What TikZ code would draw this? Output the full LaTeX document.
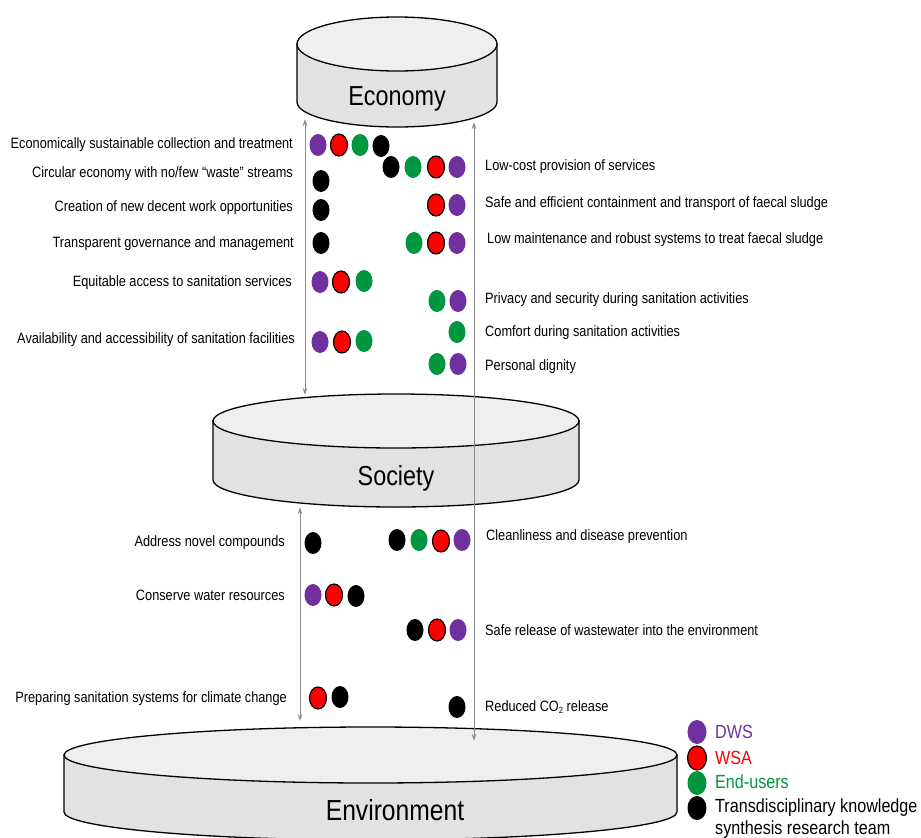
\documentclass[tikz,border=0pt]{standalone}
\usepackage{fontspec}
\setmainfont{Liberation Sans}[FakeStretch=0.85]
\usetikzlibrary{arrows.meta}
\definecolor{dwsP}{HTML}{7030A0}
\definecolor{wsaR}{HTML}{FF0000}
\definecolor{euG}{HTML}{00963F}
\definecolor{topfill}{HTML}{EFEFEF}
\definecolor{sidefill}{HTML}{E2E2E2}
\definecolor{arrgray}{HTML}{8C8C8C}
\newcommand\pdot[3]{\path[#1] (#2,#3) ellipse [x radius=8.5pt, y radius=11pt];}
\newcommand\ldot[3]{\path[#1] (#2,#3) ellipse [x radius=9.5pt, y radius=12pt];}
\newcommand\cyl[6]{% cx, topy, boty, rx, ry, bottom ry
  \filldraw[disk, fill=sidefill] (#1-#4,#2) -- (#1-#4,#3)
    arc[start angle=180, end angle=360, x radius=#4pt, y radius=#6pt] -- (#1+#4,#2) -- cycle;
  \filldraw[disk, fill=topfill] (#1,#2) ellipse [x radius=#4pt, y radius=#5pt];}
\begin{document}
\begin{tikzpicture}[x=1pt,y=-1pt,
  disk/.style={draw=black, line width=1.3pt},
  head/.style={font=\fontsize{27.5}{30}\selectfont, inner sep=0pt},
  lbl/.style={font=\fontsize{15}{17}\selectfont, inner sep=0pt},
  lgd/.style={font=\fontsize{19}{22}\selectfont, inner sep=0pt, anchor=west},
  conn/.style={draw=arrgray, line width=0.9pt, {Stealth[length=7pt,width=4.5pt]}-{Stealth[length=7pt,width=4.5pt]}},
  dotP/.style={fill=dwsP},
  dotR/.style={fill=wsaR, draw=black, line width=1.2pt},
  dotG/.style={fill=euG},
  dotK/.style={fill=black}]
\useasboundingbox (0,0) rectangle (921,838);
\fill[white] (0,0) rectangle (921,838);

% cylinders
\cyl{397}{44}{102}{100}{27}{25}
\cyl{396}{421}{480}{183}{27}{27}
\cyl{370.5}{755}{812}{306.5}{28}{28}

\node[head] (eco) at (397,99) {Economy};
\node[head] (soc) at (396,478) {Society};
\node[head, font=\fontsize{29}{32}\selectfont] (env) at (395,810) {Environment};

% connectors
\coordinate (ecoL) at (305,119);
\coordinate (socTL) at (305,395);
\coordinate (ecoR) at (474,122);
\coordinate (envR) at (474,741);
\coordinate (socBL) at (300,507);
\coordinate (envL) at (300,721);
\draw[conn] (ecoL) -- (socTL);
\draw[conn] (ecoR) -- (envR);
\draw[conn] (socBL) -- (envL);

% left labels (economy-society)
\node[lbl, anchor=east] (l1) at (293,145) {Economically sustainable collection and treatment};
\node[lbl, anchor=east] (l2) at (293,174) {Circular economy with no/few “waste” streams};
\node[lbl, anchor=east] (l3) at (293,208) {Creation of new decent work opportunities};
\node[lbl, anchor=east] (l4) at (294,244) {Transparent governance and management};
\node[lbl, anchor=east] (l5) at (292,283) {Equitable access to sanitation services};
\node[lbl, anchor=east] (l6) at (295,340) {Availability and accessibility of sanitation facilities};

% right labels (economy-society)
\node[lbl, anchor=west] (r1) at (485,167) {Low-cost provision of services};
\node[lbl, anchor=west] (r2) at (485,204) {Safe and efficient containment and transport of faecal sludge};
\node[lbl, anchor=west] (r3) at (487,240) {Low maintenance and robust systems to treat faecal sludge};
\node[lbl, anchor=west] (r4) at (485,300) {Privacy and security during sanitation activities};
\node[lbl, anchor=west] (r5) at (485,333) {Comfort during sanitation activities};
\node[lbl, anchor=west] (r6) at (485,367) {Personal dignity};

% society-environment labels
\node[lbl, anchor=east] (l7) at (285,543) {Address novel compounds};
\node[lbl, anchor=east] (l8) at (285,595) {Conserve water resources};
\node[lbl, anchor=east] (l9) at (287,699) {Preparing sanitation systems for climate change};
\node[lbl, anchor=west] (r7) at (486,537) {Cleanliness and disease prevention};
\node[lbl, anchor=west] (r8) at (485,630) {Safe release of wastewater into the environment};
\node[lbl, anchor=west] (r9) at (485,707) {Reduced CO\raisebox{-2pt}{\fontsize{9}{9}\selectfont 2} release};

% dots: economy-society
\pdot{dotP}{318}{145}\pdot{dotR}{339}{145}\pdot{dotG}{360}{145}\pdot{dotK}{381}{146}
\pdot{dotK}{391}{167}\pdot{dotG}{413}{167}\pdot{dotR}{436}{167}\pdot{dotP}{457}{167}
\pdot{dotK}{321}{181}
\pdot{dotK}{321}{210}
\pdot{dotR}{436}{205}\pdot{dotP}{457}{205}
\pdot{dotK}{321}{243}
\pdot{dotG}{414}{243}\pdot{dotR}{436}{243}\pdot{dotP}{457}{243}
\pdot{dotP}{320}{282}\pdot{dotR}{341}{282}\pdot{dotG}{364}{281}
\pdot{dotG}{437}{301}\pdot{dotP}{458}{301}
\pdot{dotG}{457}{332}
\pdot{dotP}{320}{342}\pdot{dotR}{342}{342}\pdot{dotG}{364}{341}
\pdot{dotG}{437}{364}\pdot{dotP}{458}{364}

% dots: society-environment
\pdot{dotK}{313}{543}
\pdot{dotK}{397}{540}\pdot{dotG}{419}{540}\pdot{dotR}{441}{541}\pdot{dotP}{462}{540}
\pdot{dotP}{313}{595}\pdot{dotR}{334}{595}\pdot{dotK}{356}{596}
\pdot{dotK}{415}{630}\pdot{dotR}{437}{630}\pdot{dotP}{458}{630}
\pdot{dotR}{318}{698}\pdot{dotK}{340}{697}
\pdot{dotK}{457}{707}

% legend
\ldot{dotP}{697}{732}
\ldot{dotR}{697}{758}
\ldot{dotG}{697}{783}
\ldot{dotK}{697}{808}
\node[lgd, text=dwsP] (lgP) at (715,732) {DWS};
\node[lgd, text=wsaR] (lgR) at (715,758) {WSA};
\node[lgd, text=euG] (lgG) at (715,782) {End-users};
\node[lgd, anchor=north west, align=left] (lgK) at (715,799) {Transdisciplinary knowledge\\synthesis research team};
\end{tikzpicture}
\end{document}
